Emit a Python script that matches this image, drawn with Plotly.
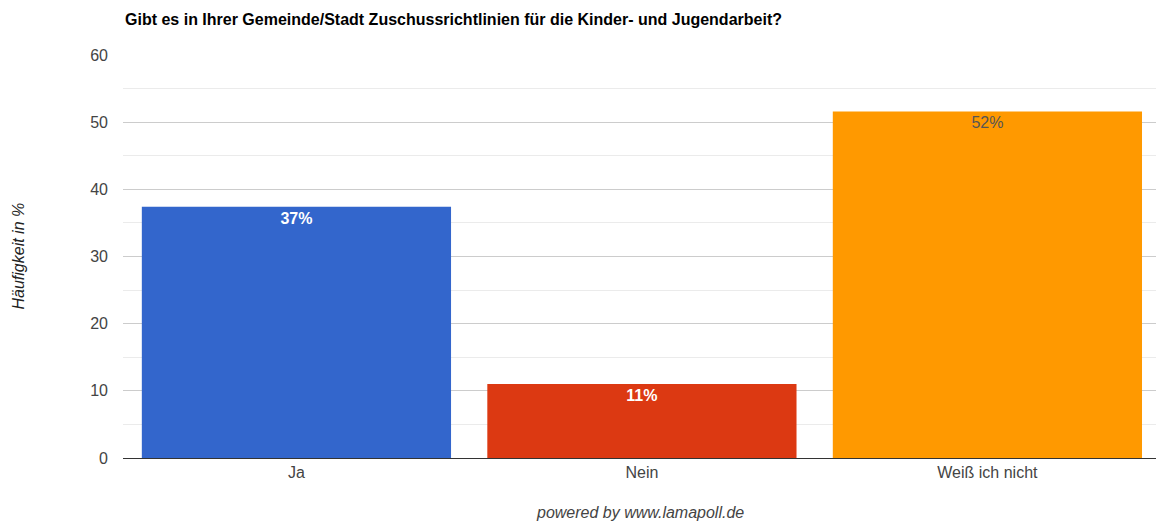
import plotly.graph_objects as go

categories = ["Ja", "Nein", "Weiß ich nicht"]
shares = [37.4, 11.0, 51.6]
bar_colors = ["#3366cc", "#dc3912", "#ff9900"]
label_colors = ["#ffffff", "#ffffff", "#555555"]
label_bold = [True, True, False]
y_ticks = [0, 10, 20, 30, 40, 50, 60]

FONT = "Arial, Liberation Sans, sans-serif"

labels = []
for v, b in zip(shares, label_bold):
    s = f"{round(v)}%"
    labels.append(f"<b>{s}</b>" if b else s)

fig = go.Figure(
    go.Bar(
        x=categories,
        y=shares,
        marker=dict(color=bar_colors, line=dict(width=0)),
        text=labels,
        texttemplate="%{text}",
        textposition="inside",
        insidetextanchor="end",
        textfont=dict(color=label_colors, size=16, family=FONT),
        textangle=0,
        hoverinfo="skip",
    )
)

fig.update_layout(
    width=1156,
    height=522,
    margin=dict(l=123, r=0, t=55, b=64),
    paper_bgcolor="white",
    plot_bgcolor="white",
    bargap=0.105,
    showlegend=False,
    font=dict(family=FONT, size=16, color="#444444"),
)

fig.update_xaxes(
    range=[-0.502, 2.488],
    showgrid=False,
    showline=True,
    linecolor="#333333",
    linewidth=1,
    ticks="",
    tickfont=dict(size=16, color="#444444"),
    fixedrange=True,
)

fig.update_yaxes(
    range=[0, 60],
    tickvals=y_ticks,
    showgrid=True,
    gridcolor="#cccccc",
    gridwidth=1,
    zeroline=False,
    showline=False,
    ticks="",
    ticklabelstandoff=14,
    tickfont=dict(size=16, color="#444444"),
    minor=dict(dtick=5, showgrid=True, gridcolor="#ebebeb", gridwidth=1),
)

fig.add_annotation(
    text="<b>Gibt es in Ihrer Gemeinde/Stadt Zuschussrichtlinien für die Kinder- und Jugendarbeit?</b>",
    xref="paper", yref="paper", x=0, y=1, xanchor="left", yanchor="bottom",
    yshift=25, showarrow=False,
    font=dict(size=16, color="#000000"),
)

fig.add_annotation(
    text="<i>Häufigkeit in %</i>",
    xref="paper", yref="paper", x=0, y=0.5, xanchor="center", yanchor="middle",
    xshift=-105, textangle=-90, showarrow=False,
    font=dict(size=16, color="#222222"),
)

fig.add_annotation(
    text="<i>powered by www.lamapoll.de</i>",
    xref="paper", yref="paper", x=0.5, y=0, xanchor="center", yanchor="middle",
    yshift=-54, showarrow=False,
    font=dict(size=16, color="#444444"),
)

fig.write_html("out.html")
